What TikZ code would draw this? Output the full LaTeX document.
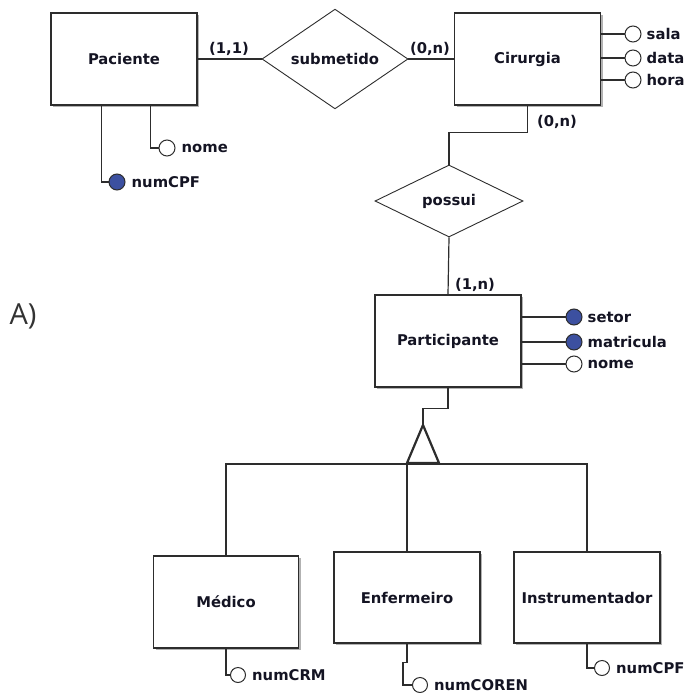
\documentclass[tikz,border=0pt]{standalone}
\usepackage{fontspec}
\setmainfont{DejaVu Sans}
\newfontfamily\letraA{Open Sans}
\usetikzlibrary{shapes.geometric,shadows,positioning}
\definecolor{linha}{RGB}{45,45,45}
\definecolor{azul}{RGB}{60,80,160}
\definecolor{texto}{RGB}{20,20,35}
\definecolor{cinza}{RGB}{51,51,51}
\newcommand\fontER{\bfseries\fontsize{14.8}{17}\selectfont}

\tikzset{
  entidade/.style={draw=linha, line width=1.2pt, fill=white, minimum width=146pt, minimum height=92pt,
    inner sep=0pt, text=texto, font=\fontER,
    drop shadow={shadow xshift=2pt, shadow yshift=-2pt, fill=black, opacity=0.3}},
  relacao/.style={diamond, draw=linha, line width=0.9pt, fill=white, minimum width=146pt, minimum height=74pt,
    inner sep=0pt, text=texto, font=\fontER},
  atrib/.style={circle, draw=linha, line width=1pt, fill=white, minimum size=16pt, inner sep=0pt},
  chave/.style={atrib, fill=azul},
  nomeatr/.style={inner sep=2pt, text=texto, font=\fontER},
  card/.style={inner sep=0pt, text=texto, font=\fontER},
  liga/.style={draw=linha, line width=1.2pt},
}

\begin{document}
\begin{tikzpicture}[x=1pt,y=-1pt]
	\useasboundingbox (0,0) rectangle (688,693);
	
	% entidades e relacionamentos
	\node[entidade] (pac) at (124,59) {Paciente};
	\node[relacao] (sub) at (335,59) {submetido};
	\node[entidade] (cir) at (527.5,59) {Cirurgia};
	\node[relacao,minimum width=148pt,minimum height=72pt] (pos) at (449,201) {possui};
	\node[entidade] (par) at (448,341) {Participante};
	
	\node[entidade,minimum width=145pt] (med) at (226,602) {Médico};
	\node[entidade,minimum height=91pt] (enf) at (407,597.5) {Enfermeiro};
	\node[entidade,minimum height=91pt] (ins) at (587,597.5) {Instrumentador};
	
	\node[font=\letraA\fontsize{29}{34}\selectfont, text=cinza, inner sep=0pt] (letra) at (23,316) {A)};
	
	% ligacoes
	\draw[liga] (pac.east) -- (sub.west);
	\draw[liga] (sub.east) -- (cir.west);
	\draw[liga] (cir.south) -- ++(0,27) -| (pos.north);
	\draw[liga] (pos.south) -- (par.north);
	
	\node[card] (c1) at (229,49) {(1,1)};
	\node[card] (c2) at (430,49) {(0,n)};
	\node[card] (c3) at (557,122) {(0,n)};
	\node[card] (c4) at (475,285) {(1,n)};
	
	% atributos Paciente
	\node[atrib] (a1) at (167,148) {};
	\node[chave] (a2) at (117,182) {};
	\draw[liga] ([xshift=100pt]pac.south west) |- (a1.west);
	\draw[liga] ([xshift=51pt]pac.south west) |- (a2.west);
	\node[nomeatr,right=4pt of a1] (t1) {nome};
	\node[nomeatr,right=4pt of a2] (t2) {numCPF};
	
	% atributos Cirurgia
	\node[atrib] (a3) at (633,34) {};
	\node[atrib] (a4) at (633,58) {};
	\node[atrib] (a5) at (633,80) {};
	\draw[liga] (a3.west) -- (a3.west -| cir.east);
	\draw[liga] (a4.west) -- (a4.west -| cir.east);
	\draw[liga] (a5.west) -- (a5.west -| cir.east);
	\node[nomeatr,right=3pt of a3] (t3) {sala};
	\node[nomeatr,right=3pt of a4] (t4) {data};
	\node[nomeatr,right=3pt of a5] (t5) {hora};
	
	% atributos Participante
	\node[chave] (a6) at (574,317) {};
	\node[chave] (a7) at (574,342) {};
	\node[atrib] (a8) at (574,364) {};
	\draw[liga] (a6.west) -- (a6.west -| par.east);
	\draw[liga] (a7.west) -- (a7.west -| par.east);
	\draw[liga] (a8.west) -- (a8.west -| par.east);
	\node[nomeatr,right=3pt of a6] (t6) {setor};
	\node[nomeatr,right=3pt of a7] (t7) {matricula};
	\node[nomeatr,right=3pt of a8] (t8) {nome};
	
	% especializacao
	\coordinate (topo) at (423,425);
	\coordinate (base) at (407,464);
	\draw[liga] (par.south) -- ++(0,21) -| (topo);
	\draw[liga] (med.north) |- (base) -| (ins.north);
	\draw[liga] (base) -- (enf.north);
	\draw[linha,line width=2.2pt] (topo) -- (439,463) -- (407,463) -- cycle;
	
	% atributos das especializacoes
	\node[atrib,minimum size=15pt] (a9) at (238,675) {};
	\node[atrib,minimum size=15pt] (a10) at (420,685) {};
	\node[atrib,minimum size=15pt] (a11) at (602,668) {};
	\draw[liga] (med.south) |- (a9.west);
	\draw[liga] (enf.south) -- ++(0,19) -- ++(-4,0) |- (a10.west);
	\draw[liga] (ins.south) |- (a11.west);
	\node[nomeatr,right=4pt of a9] (t9) {numCRM};
	\node[nomeatr,right=4pt of a10] (t10) {numCOREN};
	\node[nomeatr,right=4pt of a11] (t11) {numCPF};
	
\end{tikzpicture}
\end{document}
